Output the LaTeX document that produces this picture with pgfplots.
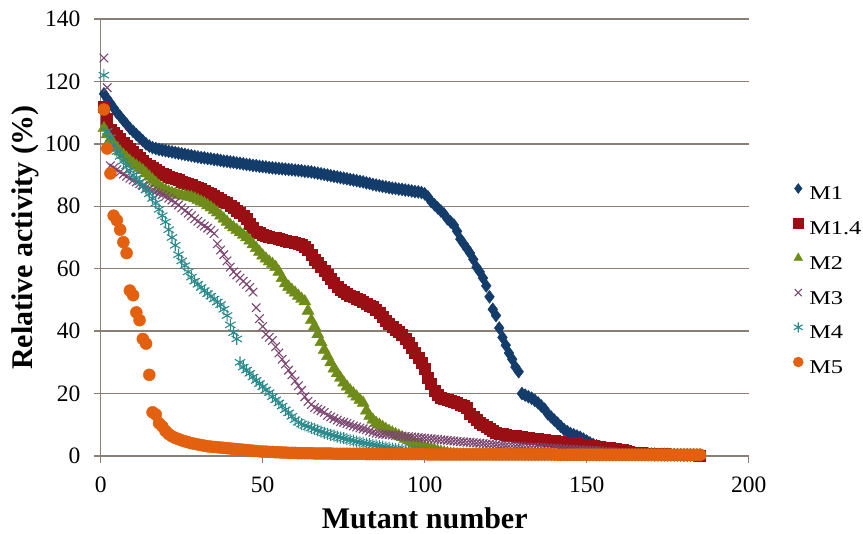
\documentclass[border=0pt]{standalone}
\usepackage{pgfplots}
\pgfplotsset{compat=1.18}
\usepackage{pgfplotstable}
\usepackage{fontspec}
\setmainfont{Liberation Serif}
\newfontfamily\legfont{Liberation Serif}[FakeStretch=1.25]
\definecolor{cMa}{HTML}{133C6B}
\definecolor{cMb}{HTML}{9A0F14}
\definecolor{cMc}{HTML}{6F8C1A}
\definecolor{cMd}{HTML}{7B4670}
\definecolor{cMe}{HTML}{2A8A8C}
\definecolor{cMf}{HTML}{E2600E}
\definecolor{gridc}{HTML}{8A7F72}
\pgfplotstableread{
x a b c d e f
1 116 112 105 127.5 122 111
2 114.5 108 103 118 104 98.5
3 113 104.5 101.5 93 102 90.5
4 111.5 103.5 100 92.3 99.5 77
5 110 102.5 98.7 91.7 97.5 75.5
6 108.8 101.5 97.5 91 96 72.5
7 107.5 100.5 96.5 90.3 94.5 68.5
8 106.3 99.5 95.5 89.6 93 65
9 105 98.5 94.5 89 91.5 53
10 104 97.5 93.7 88.4 90 51.5
11 103 96.5 93 87.8 89 46
12 102 95.5 92.2 87.2 87.8 43.5
13 101 94.5 91.5 86.6 86.5 37.5
14 100 93.7 90.5 86 85.2 36
15 99.3 93 89.5 85.5 84 26
16 98.8 92.3 88.5 85 82.5 14
17 98.5 91.6 87.5 84.6 81 13.3
18 98.2 91 86.5 84.2 79 10.5
19 98 90.5 85.8 83.7 77 9.5
20 97.8 90 85.2 83.2 75 8
21 97.6 89.6 84.7 82.6 72.5 7
22 97.4 89.2 84.3 82 70 6.3
23 97.2 88.8 84 81.2 67.5 5.8
24 97 88.4 83.7 80.4 64.5 5.4
25 96.8 88 83.5 79.5 62.5 5
26 96.6 87.6 83.3 78.6 61 4.7
27 96.4 87.2 83.1 77.8 59 4.4
28 96.2 86.8 82.9 77 57.3 4.1
29 96 86.4 82.5 76 56 3.9
30 95.8 86 82 75.2 55 3.7
31 95.6 85.5 81.5 74.4 54 3.5
32 95.5 85 81 73.7 53 3.3
33 95.3 84.5 80.3 73 52 3.1
34 95.2 84 79.6 72.3 51.2 3
35 95 83.4 78.8 71.3 50.3 2.9
36 94.9 82.8 78 68 49.3 2.8
37 94.7 82.2 77 66 48.5 2.7
38 94.5 81.6 76 64.5 47 2.6
39 94.4 81 75 62.5 45 2.5
40 94.2 80.2 74 60.5 42 2.4
41 94.1 79.4 73.2 59 39.5 2.3
42 93.9 78.6 72.4 58 37.5 2.2
43 93.8 77.8 71.6 57 30 2.1
44 93.6 77 70.8 56 28.5 2
45 93.4 76 70 55 27.5 1.9
46 93.3 74.5 69 54 26.5 1.8
47 93.1 73 67.8 52.5 25.3 1.7
48 93 72 66.6 47.5 24.2 1.6
49 92.8 71.4 65.4 44 23.2 1.5
50 92.7 71 64.2 41.5 22.2 1.4
51 92.6 70.6 63.2 39 21.2 1.4
52 92.4 70.3 62.3 38 20.3 1.3
53 92.3 70 61.5 37 19 1.3
54 92.2 69.8 60.5 35 18 1.2
55 92.1 69.5 59 33 17 1.2
56 92 69.2 57 31 16 1.1
57 91.9 69 55.3 29.5 14.8 1.1
58 91.8 68.8 54.2 27.5 13.8 1
59 91.7 68.5 53.2 26 12.7 1
60 91.6 68.2 52.3 24 11.6 1
61 91.5 68 51.3 22.5 10.8 0.9
62 91.4 67.6 50.3 21 10.2 0.9
63 91.2 67.2 49.5 19 9.8 0.9
64 91.1 66 46.5 17.5 9.4 0.9
65 91 64.5 43.5 16.5 9 0.9
66 90.8 63 41.5 15.5 8.6 0.8
67 90.6 61.8 39 15 8.2 0.8
68 90.4 60.6 36.5 14.5 7.8 0.8
69 90.2 59.3 34 14 7.4 0.8
70 90 58 32 13 7.1 0.8
71 89.8 56.8 30 12.5 6.8 0.8
72 89.6 55.5 28 12 6.5 0.7
73 89.4 54.3 26.5 11.5 6.2 0.7
74 89.2 53.3 25 11 5.9 0.7
75 89 52.6 23.5 10.8 5.7 0.7
76 88.8 52 22.2 10.4 5.4 0.7
77 88.6 51.5 21 10 5.1 0.7
78 88.4 51 20 9.6 4.9 0.7
79 88.2 50.5 19 9.3 4.6 0.7
80 88 50 18 9 4.4 0.7
81 87.8 49.4 17 8.7 4.2 0.7
82 87.5 48.8 14.5 8.4 4 0.6
83 87.3 48.2 12.8 8 3.8 0.6
84 87 47.7 11.6 7.6 3.6 0.6
85 86.8 47 10.6 7.3 3.4 0.6
86 86.6 45.8 10 7.1 3.2 0.6
87 86.4 44.5 9.3 7 3 0.6
88 86.2 43.4 8.6 6.9 2.8 0.6
89 86 42.4 8 6.8 2.6 0.6
90 85.8 41.5 7.5 6.7 2.4 0.6
91 85.7 40.6 7 6.6 2.2 0.6
92 85.5 39.7 6.5 6.5 2.1 0.6
93 85.4 38.8 6 6.4 1.9 0.6
94 85.2 37.5 5.5 6.3 1.8 0.6
95 85.1 36.2 5 6.2 1.6 0.6
96 84.9 34.8 4.5 6.1 1.5 0.6
97 84.7 33.2 4 6 1.4 0.6
98 84.6 31.6 3.6 5.9 1.3 0.6
99 84.4 30 3.2 5.8 1.2 0.6
100 84 28 2.8 5.7 1.1 0.6
101 83 25 2.5 5.6 1 0.5
102 81.5 23 2.2 5.5 0.9 0.5
103 80.5 21 1.9 5.4 0.9 0.5
104 79.5 19.5 1.6 5.3 0.8 0.5
105 78.5 18.8 1.3 5.2 0.8 0.5
106 77.5 18.3 1.1 5.1 0.7 0.5
107 76 18 0.9 5 0.7 0.5
108 75 17.7 0.7 4.9 0.6 0.5
109 74 17.3 0.6 4.8 0.6 0.5
110 72 17 0.5 4.7 0.6 0.5
111 69.5 16.5 0.4 4.6 0.5 0.5
112 68 16 0.4 4.5 0.5 0.5
113 66.5 15.4 0.4 4.4 0.5 0.5
114 65 13.6 0.4 4.4 0.5 0.5
115 63 12.5 0.4 4.3 0.5 0.5
116 60.5 11.6 0.4 4.2 0.5 0.5
117 59 10.8 0.4 4.1 0.5 0.5
118 57 10 0.4 4 0.5 0.5
119 54.5 9.3 0.4 3.9 0.5 0.5
120 51 8.7 0.4 3.8 0.5 0.5
121 47 8.1 0.4 3.7 0.4 0.5
122 45 7.6 0.4 3.6 0.4 0.5
123 41 7.3 0.4 3.5 0.4 0.5
124 38 7 0.4 3.4 0.4 0.5
125 35.5 6.8 0.4 3.3 0.4 0.5
126 33 6.6 0.4 3.2 0.4 0.5
127 31 6.5 0.4 3.2 0.4 0.5
128 28.5 6.4 0.4 3.1 0.4 0.5
129 27 6.3 0.4 3.1 0.4 0.5
130 20 6.1 0.4 3 0.4 0.5
131 19.5 6 0.3 2.9 0.3 0.5
132 19 5.9 0.3 2.9 0.3 0.5
133 18.5 5.7 0.3 2.8 0.3 0.5
134 17.8 5.6 0.3 2.8 0.3 0.5
135 17 5.4 0.3 2.7 0.3 0.5
136 16 5.3 0.3 2.7 0.3 0.5
137 15 5.2 0.3 2.6 0.3 0.5
138 13.5 5 0.3 2.6 0.3 0.5
139 12.5 4.9 0.3 2.5 0.3 0.5
140 11.5 4.8 0.3 2.5 0.3 0.5
141 10.5 4.6 0.3 2.4 0.3 0.4
142 9.5 4.5 0.3 2.3 0.3 0.4
143 8.5 4.3 0.3 2.3 0.3 0.4
144 7.8 4.2 0.3 2.2 0.3 0.4
145 7.2 4.1 0.3 2.1 0.3 0.4
146 6.8 3.9 0.3 2.1 0.3 0.4
147 6.4 3.8 0.3 2 0.3 0.4
148 6 3.7 0.3 2 0.3 0.4
149 5.4 3.6 0.3 1.9 0.3 0.4
150 4.8 3.4 0.3 1.9 0.3 0.4
151 4.2 3.3 0.3 1.8 0.2 0.4
152 3.7 3.2 0.3 1.8 0.2 0.4
153 3.3 3 0.3 1.7 0.2 0.4
154 3 2.9 0.3 1.7 0.2 0.4
155 2.7 2.8 0.3 1.6 0.2 0.4
156 2.4 2.7 0.3 1.5 0.2 0.4
157 2.1 2.5 0.3 1.4 0.2 0.4
158 1.8 2.4 0.3 1.3 0.2 0.4
159 1.6 2.2 0.3 1.2 0.2 0.4
160 1.4 2.1 0.3 1.1 0.2 0.4
161 1.2 1.9 0.2 1 0.2 0.4
162 1.1 1.7 0.2 0.9 0.2 0.4
163 1 1.4 0.2 0.8 0.2 0.4
164 0.9 1.2 0.2 0.8 0.2 0.4
165 0.8 1.1 0.2 0.7 0.2 0.4
166 0.8 1 0.2 0.7 0.2 0.4
167 0.7 0.9 0.2 0.6 0.2 0.4
168 0.7 0.8 0.2 0.6 0.2 0.4
169 0.6 0.8 0.2 0.5 0.2 0.4
170 0.6 0.7 0.2 0.5 0.2 0.4
171 0.6 0.7 0.2 0.4 0.1 0.4
172 0.5 0.6 0.2 0.4 0.1 0.4
173 0.5 0.6 0.2 0.4 0.1 0.4
174 0.5 0.6 0.2 0.4 0.1 0.4
175 0.5 0.5 0.2 0.4 0.1 0.4
176 0.4 0.5 0.2 0.3 0.1 0.4
177 0.4 0.5 0.2 0.3 0.1 0.4
178 0.4 0.4 0.2 0.3 0.1 0.4
179 0.4 0.4 0.2 0.3 0.1 0.4
180 0.3 0.4 0.2 0.3 0.1 0.4
181 0.3 0.3 0.2 0.2 0.1 0.4
182 0.3 0.3 0.2 0.2 0.1 0.4
183 0.3 0.3 0.2 0.2 0.1 0.4
184 0.2 0.3 0.2 0.2 0.1 0.4
185 0.2 0.2 0.2 0.2 0.1 0.4
}\mydata
\begin{document}
\fontsize{22}{26}\selectfont
\begin{tikzpicture}
\useasboundingbox (0,0) rectangle (863pt,534pt);
\begin{axis}[
  at={(100.7pt,78pt)}, anchor=south west,
  scale only axis, width=648pt, height=437pt,
  xmin=0, xmax=200, ymin=0, ymax=140,
  xtick={0,50,...,200}, ytick={0,20,...,140},
  axis lines=left,
  axis line style={-, draw=gridc, line width=1.4pt},
  ymajorgrids, grid style={draw=gridc, line width=1.4pt},
  tick align=outside, major tick length=7pt,
  tick style={draw=gridc, line width=1.4pt},
  /pgf/number format/assume math mode=true,
  ticklabel style={font=\fontsize{23.5}{27}\selectfont, text=black, inner sep=0pt},
  yticklabel style={anchor=east, xshift=-13pt},
  xticklabel style={anchor=north, yshift=-14pt},
  xlabel={Mutant number}, ylabel={Relative activity (\%)},
  label style={font=\fontsize{30}{34}\selectfont\bfseries, text=black, inner sep=0pt},
  xlabel style={at={(axis description cs:0.5,-0.1654)}, anchor=base},
  ylabel style={at={(axis description cs:-0.1168,0.5)}, anchor=center},
  legend cell align=left,
  legend style={draw=none, fill=none, inner sep=0pt, outer sep=0pt,
    at={(axis description cs:1.0688,0.627)}, anchor=north west,
    font=\legfont\fontsize{19.5}{23}\selectfont,
    nodes={inner sep=0pt, text height=14pt, text depth=4pt},
    row sep=12.7pt, column sep=6pt},
  legend image code/.code={\path[draw=none,fill=none] (0pt,0pt) rectangle (10pt,13pt);
    \draw[#1, mark size=5pt] plot coordinates {(5pt,6.5pt)};},
]
\addplot[only marks, mark=diamond*, color=cMa, mark size=6.5pt] table[x=x,y=a]{\mydata};
\addplot[only marks, mark=square*, color=cMb, mark size=5.5pt] table[x=x,y=b]{\mydata};
\addplot[only marks, mark=triangle*, color=cMc, mark size=7pt] table[x=x,y=c]{\mydata};
\addplot[only marks, mark=x, color=cMd, mark size=6pt, line width=1.1pt] table[x=x,y=d]{\mydata};
\addplot[only marks, mark=asterisk, color=cMe, mark size=6pt, line width=1.1pt] table[x=x,y=e]{\mydata};
\addplot[only marks, mark=*, color=cMf, mark size=6pt] table[x=x,y=f]{\mydata};
\legend{M1,M1.4,M2,M3,M4,M5}
\end{axis}
\end{tikzpicture}
\end{document}
